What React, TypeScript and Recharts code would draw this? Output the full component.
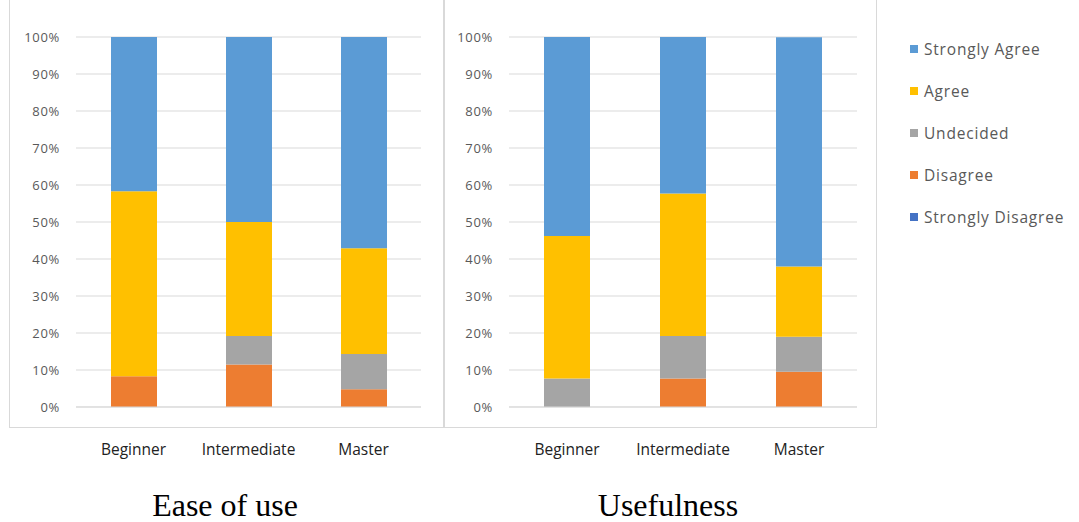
import { BarChart, Bar, XAxis, YAxis, CartesianGrid } from "recharts";

const categories = ["Beginner", "Intermediate", "Master"];
const yTicks = [0, 10, 20, 30, 40, 50, 60, 70, 80, 90, 100];

// Ease of use (percent of respondents)
const easeStronglyDisagree = [0, 0, 0];
const easeDisagree = [8.3, 11.5, 4.8];
const easeUndecided = [0, 7.7, 9.5];
const easeAgree = [50, 30.8, 28.6];
const easeStronglyAgree = [41.7, 50, 57.1];

// Usefulness (percent of respondents)
const useStronglyDisagree = [0, 0, 0];
const useDisagree = [0, 7.7, 9.5];
const useUndecided = [7.7, 11.5, 9.5];
const useAgree = [38.5, 38.5, 19.0];
const useStronglyAgree = [53.8, 42.3, 61.9];

const SERIES = [
  { key: "sd", name: "Strongly Disagree", color: "#4472C4" },
  { key: "d", name: "Disagree", color: "#ED7D31" },
  { key: "u", name: "Undecided", color: "#A5A5A5" },
  { key: "a", name: "Agree", color: "#FFC000" },
  { key: "sa", name: "Strongly Agree", color: "#5B9BD5" },
];

const easeData = categories.map((c, i) => ({
  name: c,
  sd: easeStronglyDisagree[i],
  d: easeDisagree[i],
  u: easeUndecided[i],
  a: easeAgree[i],
  sa: easeStronglyAgree[i],
}));

const useData = categories.map((c, i) => ({
  name: c,
  sd: useStronglyDisagree[i],
  d: useDisagree[i],
  u: useUndecided[i],
  a: useAgree[i],
  sa: useStronglyAgree[i],
}));

const FONT = "'Open Sans', sans-serif";
const TEXT = "#595959";

function StackChart({ data, left, width, yAxisWidth, right }: { data: any[]; left: number; width: number; yAxisWidth: number; right: number }) {
  return (
    <div style={{ position: "absolute", left, top: 0 }}>
      <BarChart
        width={width}
        height={470}
        data={data}
        margin={{ top: 37, right, left: 0, bottom: 20 }}
        barSize={46}
      >
        <CartesianGrid vertical={false} stroke="#D9D9D9" />
        <XAxis
          dataKey="name"
          height={43}
          axisLine={{ stroke: "#D9D9D9" }}
          tickLine={false}
          tickMargin={31}
          tick={{ fill: "#222", fontSize: 15.5, fontFamily: FONT }}
        />
        <YAxis
          width={yAxisWidth}
          domain={[0, 100]}
          ticks={yTicks}
          interval={0}
          axisLine={false}
          tickLine={false}
          tickMargin={10}
          tickFormatter={(v) => `${v}%`}
          tick={{ fill: TEXT, fontSize: 13, fontFamily: FONT, letterSpacing: 0.7 }}
        />
        {SERIES.map((s) => (
          <Bar key={s.key} dataKey={s.key} name={s.name} stackId="1" fill={s.color} isAnimationActive={false} />
        ))}
      </BarChart>
    </div>
  );
}

export default function App() {
  return (
    <div style={{ position: "absolute", left: 0, top: 0, width: 1079, height: 522, background: "#fff", overflow: "hidden" }}>
      <div style={{ position: "absolute", left: 9, top: -2, width: 434, height: 428, border: "1px solid #D9D9D9" }} />
      <div style={{ position: "absolute", left: 443, top: -2, width: 432, height: 428, border: "1px solid #D9D9D9" }} />
      <StackChart data={easeData} left={0} width={440} yAxisWidth={76} right={19} />
      <StackChart data={useData} left={433} width={445} yAxisWidth={76} right={21} />
      <div style={{ position: "absolute", left: 910, top: 38, fontFamily: FONT, fontSize: 15.5, color: TEXT, letterSpacing: 0.8 }}>
        {[...SERIES].reverse().map((s) => (
          <div key={s.key} style={{ display: "flex", alignItems: "center", height: 42, marginTop: -10, marginBottom: 10 }}>
            <span style={{ width: 8, height: 8, background: s.color, marginRight: 6, display: "inline-block" }} />
            {s.name}
          </div>
        ))}
      </div>
      <div style={{ position: "absolute", left: 0, width: 450, top: 489, textAlign: "center", fontFamily: "'Liberation Serif', serif", fontSize: 32, color: "#000", lineHeight: "32px" }}>
        Ease of use
      </div>
      <div style={{ position: "absolute", left: 443, width: 450, top: 489, textAlign: "center", fontFamily: "'Liberation Serif', serif", fontSize: 32, color: "#000", lineHeight: "32px" }}>
        Usefulness
      </div>
    </div>
  );
}
